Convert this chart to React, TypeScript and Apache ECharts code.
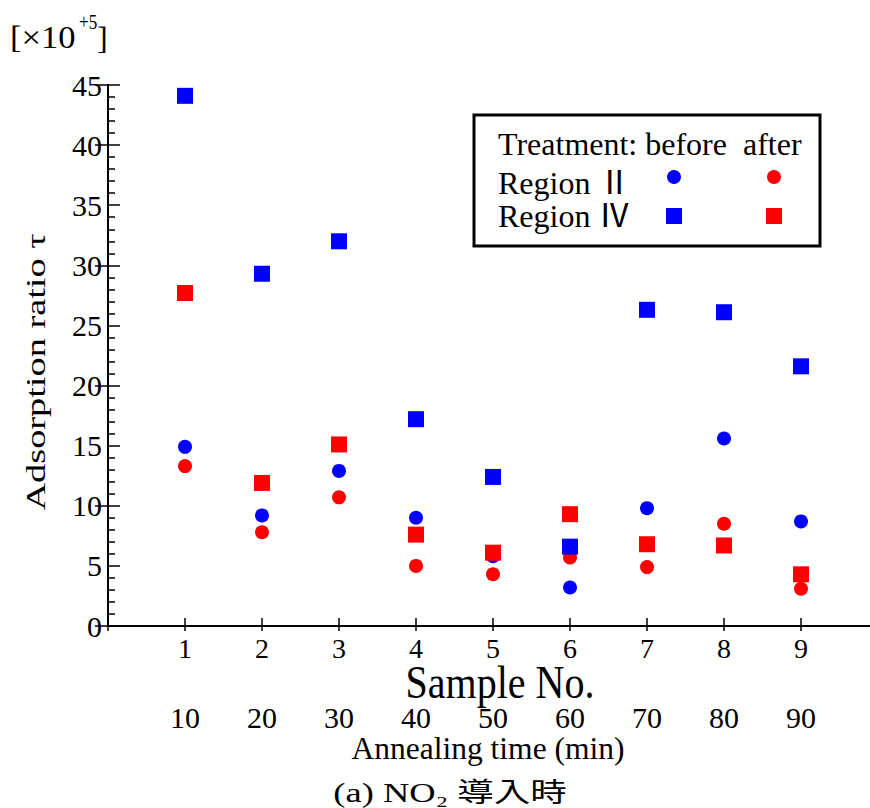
import React, { useEffect, useRef } from "react";
import * as echarts from "echarts";

const samples = [1, 2, 3, 4, 5, 6, 7, 8, 9];
const annealingTimes = [10, 20, 30, 40, 50, 60, 70, 80, 90];
const regionIIBefore = [14.9, 9.2, 12.9, 9.0, 5.8, 3.2, 9.8, 15.6, 8.7];
const regionIIAfter = [13.3, 7.8, 10.7, 5.0, 4.3, 5.7, 4.9, 8.5, 3.1];
const regionIVBefore = [44.1, 29.3, 32.0, 17.2, 12.4, 6.6, 26.3, 26.1, 21.6];
const regionIVAfter = [27.7, 11.9, 15.1, 7.6, 6.1, 9.3, 6.8, 6.7, 4.3];

const SERIF = "Liberation Serif";
const CJK = "Liberation Serif, Noto Sans CJK JP";
const BLUE = "#0000ff";
const RED = "#ff0000";

const pairs = (ys: number[]) => samples.map((s, i) => [s, ys[i]]);

export default function App() {
  const ref = useRef<HTMLDivElement>(null);
  useEffect(() => {
    if (!ref.current) return;
    const chart = echarts.init(ref.current, null, { renderer: "svg" });
    const axisLine = { show: true, lineStyle: { color: "#000", width: 2 } };
    const txt = (x: number, y: number, text: string, fontSize: number, extra: any = {}, styleExtra: any = {}) => ({
      type: "text",
      x,
      y,
      ...extra,
      style: {
        text,
        fontSize,
        fontFamily: SERIF,
        fill: "#000",
        textAlign: "left",
        textVerticalAlign: "middle",
        ...styleExtra,
      },
    });
    chart.setOption({
      animation: false,
      backgroundColor: "#fff",
      grid: { left: 108, top: 85, width: 770, height: 541, containLabel: false, outerBoundsMode: "none" },
      xAxis: [
        {
          type: "value",
          position: "bottom",
          min: 0,
          max: 10,
          interval: 1,
          axisLine,
          axisTick: { show: true, inside: true, length: 8, lineStyle: { color: "#000", width: 1.5 } },
          splitLine: { show: false },
          axisLabel: {
            margin: 8,
            fontSize: 28,
            fontFamily: SERIF,
            color: "#000",
            formatter: (v: number) => (samples.indexOf(v) >= 0 ? String(v) : ""),
          },
        },
        {
          type: "value",
          position: "top",
          min: 0,
          max: 10,
          interval: 1,
          axisLine,
          axisTick: { show: true, inside: true, length: 5, lineStyle: { color: "#000", width: 1.5 } },
          splitLine: { show: false },
          axisLabel: { show: false },
        },
        {
          type: "value",
          position: "bottom",
          offset: 68,
          min: 0,
          max: 10,
          interval: 1,
          axisLine: { show: false },
          axisTick: { show: false },
          splitLine: { show: false },
          axisLabel: {
            margin: 8,
            fontSize: 30,
            fontFamily: SERIF,
            color: "#000",
            formatter: (v: number) => {
              const i = samples.indexOf(v);
              return i >= 0 ? String(annealingTimes[i]) : "";
            },
          },
        },
      ],
      yAxis: [
        {
          type: "value",
          position: "left",
          min: 0,
          max: 45,
          interval: 5,
          axisLine,
          axisTick: { show: true, inside: true, length: 12, lineStyle: { color: "#000", width: 1.5 } },
          minorTick: { show: true, splitNumber: 5, length: 7, lineStyle: { color: "#000", width: 1.5 } },
          splitLine: { show: false },
          axisLabel: { margin: 6, fontSize: 30, fontFamily: SERIF, color: "#000" },
        },
        {
          type: "value",
          position: "right",
          min: 0,
          max: 45,
          interval: 10,
          axisLine,
          axisTick: { show: true, inside: true, length: 13, lineStyle: { color: "#000", width: 1.5 } },
          splitLine: { show: false },
          axisLabel: { show: false },
        },
      ],
      series: [
        {
          name: "Region II before",
          type: "scatter",
          symbol: "circle",
          symbolSize: 14,
          itemStyle: { color: BLUE, opacity: 1 },
          data: pairs(regionIIBefore),
        },
        {
          name: "Region II after",
          type: "scatter",
          symbol: "circle",
          symbolSize: 14,
          itemStyle: { color: RED, opacity: 1 },
          data: pairs(regionIIAfter),
        },
        {
          name: "Region IV before",
          type: "scatter",
          symbol: "rect",
          symbolSize: 16,
          itemStyle: { color: BLUE, opacity: 1 },
          data: pairs(regionIVBefore),
        },
        {
          name: "Region IV after",
          type: "scatter",
          symbol: "rect",
          symbolSize: 16,
          itemStyle: { color: RED, opacity: 1 },
          data: pairs(regionIVAfter),
        },
      ],
      graphic: [
        txt(10, 37, "[×10", 32, { scaleX: 1.08 }),
        txt(79, 21, "+5", 22, { scaleX: 0.78 }),
        txt(97, 38, "]", 32),
        txt(36, 372, "Adsorption ratio τ", 27, { rotation: Math.PI / 2, scaleX: 1.42 }, { textAlign: "center" }),
        txt(500, 683, "Sample No.", 40, { scaleY: 1.15 }, { textAlign: "center" }),
        txt(488, 748, "Annealing time (min)", 31.5, {}, { textAlign: "center" }),
        txt(450, 793, "(a) NO₂ 導入時", 27, { scaleX: 1.35 }, { textAlign: "center", fontFamily: CJK }),
        { type: "rect", shape: { x: 474, y: 115, width: 346, height: 131 }, style: { fill: "#fff", stroke: "#000", lineWidth: 3 }, z: 10 },
        { ...txt(498, 144, "Treatment: before  after", 32), z: 11 },
        { ...txt(498, 183, "Region Ⅱ", 32, {}, { fontFamily: CJK }), z: 11 },
        { ...txt(498, 216, "Region Ⅳ", 32, {}, { fontFamily: CJK }), z: 11 },
        { type: "circle", z: 11, shape: { cx: 674, cy: 177, r: 7 }, style: { fill: BLUE } },
        { type: "circle", z: 11, shape: { cx: 774, cy: 177, r: 7 }, style: { fill: RED } },
        { type: "rect", z: 11, shape: { x: 666, y: 208, width: 16, height: 16 }, style: { fill: BLUE } },
        { type: "rect", z: 11, shape: { x: 766, y: 208, width: 16, height: 16 }, style: { fill: RED } },
      ],
    });
    return () => chart.dispose();
  }, []);
  return (
    <div
      ref={ref}
      style={{ position: "absolute", left: 0, top: 0, width: 870, height: 808, overflow: "hidden" }}
    />
  );
}
